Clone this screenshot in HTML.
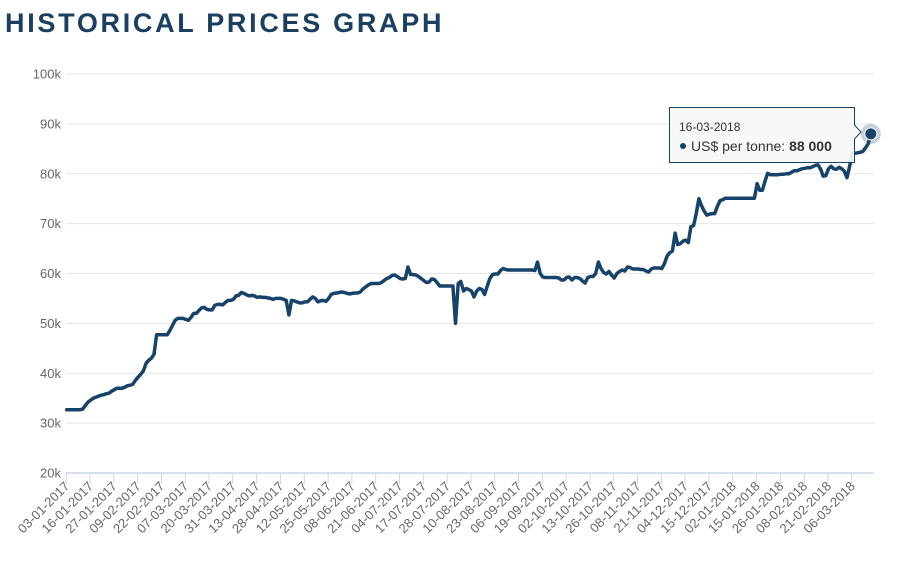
<!DOCTYPE html>
<html><head><meta charset="utf-8"><style>
body{margin:0;background:#fff;width:897px;height:568px;overflow:hidden;font-family:"Liberation Sans",sans-serif}
#title{position:absolute;left:5px;top:8px;font-size:27px;font-weight:bold;letter-spacing:2.7px;color:#1b3f61;margin:0}
svg{position:absolute;left:0;top:0}
</style></head><body>
<h1 id="title">HISTORICAL PRICES GRAPH</h1>
<svg id="chart" width="897" height="568"></svg>
<script>
const tickLabels=["03-01-2017","16-01-2017","27-01-2017","09-02-2017","22-02-2017","07-03-2017","20-03-2017","31-03-2017","13-04-2017","28-04-2017","12-05-2017","25-05-2017","08-06-2017","21-06-2017","04-07-2017","17-07-2017","28-07-2017","10-08-2017","23-08-2017","06-09-2017","19-09-2017","02-10-2017","13-10-2017","26-10-2017","08-11-2017","21-11-2017","04-12-2017","15-12-2017","02-01-2018","15-01-2018","26-01-2018","08-02-2018","21-02-2018","06-03-2018"];
const yTicks=[20000,30000,40000,50000,60000,70000,80000,90000,100000];
const prices=[
32.7,32.7,32.7,32.7,32.7,32.7,32.8,33.5,34.2,
34.6,35,35.2,35.4,35.6,35.7,35.9,36,36.4,
36.7,37,37,37,37.2,37.5,37.6,37.8,38.6,
39.2,39.8,40.5,42,42.6,43,43.8,47.7,47.7,
47.7,47.7,47.7,48.6,49.6,50.6,51,51,51,
50.8,50.6,51.2,52,52,52.6,53.1,53.2,52.8,
52.7,52.7,53.6,53.8,53.8,53.7,54.2,54.6,54.6,
54.8,55.5,55.6,56.2,56,55.7,55.5,55.6,55.5,
55.2,55.3,55.2,55.2,55.1,55,54.8,55,55,
55,54.8,54.6,51.7,54.6,54.5,54.3,54.1,54.1,
54.3,54.3,54.8,55.3,55,54.3,54.5,54.6,54.4,
55,55.8,56,56.1,56.2,56.3,56.2,56,55.9,
56,56.1,56.1,56.3,56.9,57.3,57.7,58,58,
58,58,58.2,58.6,59,59.2,59.6,59.7,59.4,
59,58.9,59,61.3,59.8,59.8,59.7,59.4,59,
58.6,58.2,58.3,58.9,58.8,58.2,57.5,57.5,57.5,
57.5,57.5,57.5,50,58,58.4,56.5,57,56.8,
56.5,55.3,56.5,57,56.8,55.8,57.5,59,59.8,
59.9,59.9,60.6,61,60.8,60.7,60.7,60.7,60.7,
60.7,60.7,60.7,60.7,60.7,60.7,60.6,62.3,60,
59.3,59.2,59.2,59.2,59.2,59.2,59.1,58.7,58.7,
59.2,59.3,58.7,59.2,59.2,59,58.5,58.1,59.2,
59.4,59.4,60,62.3,61,60.2,59.9,60.4,59.7,
59.1,60,60.4,60.7,60.5,61.3,61.2,60.9,60.9,
60.9,60.8,60.8,60.5,60.3,60.9,61.1,61.1,61.1,
61,62,63.5,64.2,64.5,68.1,65.8,66,66.5,
66.7,66.2,69.4,69.6,72,75,73.6,72.5,71.7,
71.9,72,72,73.5,74.6,74.8,75.1,75.1,75.1,
75.1,75.1,75.1,75.1,75.1,75.1,75.1,75.1,75.1,
78,76.7,76.7,78.5,80.1,79.8,79.8,79.8,79.8,
79.9,79.9,80,80,80.3,80.6,80.6,80.8,81,
81.1,81.2,81.2,81.4,81.7,81.8,81,79.5,79.6,
81,81.5,81,80.9,81.3,81,80.5,79.2,81.5,
84,84.1,84.2,84.3,84.5,85.2,86,88];
const values=prices.map(v=>v*1000);
const lastDate="16-03-2018";

const NS="http://www.w3.org/2000/svg";
const svg=document.getElementById('chart');
const X0=66.7,X1=870.8,Y0=473,Y1=74,YMIN=20000,YMAX=100000,PER=9;
const step=(X1-X0)/(values.length-1);
const xs=i=>X0+i*step;
const ys=v=>Y0-(v-YMIN)/(YMAX-YMIN)*(Y0-Y1);
function mk(t,a,p){const e=document.createElementNS(NS,t);for(const k in a)e.setAttribute(k,a[k]);(p||svg).appendChild(e);return e;}

yTicks.forEach(t=>{
  const y=ys(t);
  if(t>YMIN){const g=mk('line',{x1:66,x2:874,y1:y,y2:y,stroke:'#e6e6e6','stroke-width':1});
  
  }
  const tx=mk('text',{x:61,y:y+4.5,'text-anchor':'end','font-size':13,fill:'#666','font-family':'Liberation Sans, sans-serif'});
  tx.textContent=(t/1000)+'k';
  
  
});
const ax=mk('line',{x1:66,x2:874,y1:Y0,y2:Y0,stroke:'#ccd6eb','stroke-width':1.5});


tickLabels.forEach((l,k)=>{
  const x=xs(k*PER)-0.5;
  const tk=mk('line',{x1:x,x2:x,y1:Y0,y2:Y0+11,stroke:'#ccd6eb','stroke-width':1});
  
  
  const tx=mk('text',{x:x+4,y:Y0+14,'text-anchor':'end','font-size':13,fill:'#666','font-family':'Liberation Sans, sans-serif',transform:`rotate(-45 ${x+4} ${Y0+14})`});
  tx.textContent=l;
  
  
});
const d=values.map((v,i)=>(i?'L':'M')+xs(i).toFixed(1)+' '+ys(v).toFixed(1)).join(' ');
const line=mk('path',{d:d,fill:'none',stroke:'#17436b','stroke-width':3.5,'stroke-linejoin':'round','stroke-linecap':'round'});


const li=values.length-1,lx=xs(li),ly=ys(values[li]);
const halo=mk('circle',{cx:lx,cy:ly,r:10,fill:'#17436b','fill-opacity':0.25});


const dot=mk('circle',{cx:lx,cy:ly,r:6,fill:'#17436b',stroke:'#fff','stroke-width':1});


const tg=mk('g',{});


mk('path',{d:`M669.5 107.5 H854.5 V125 L861 132 L854.5 139 V162.5 H669.5 Z`,fill:'#f7f7f7','fill-opacity':0.92,stroke:'#17436b','stroke-width':1},tg);
const t1=mk('text',{x:679,y:131,'font-size':12,fill:'#333','font-family':'Liberation Sans, sans-serif'},tg);
t1.textContent=lastDate;


mk('circle',{cx:683,cy:146,r:3,fill:'#17436b'},tg);
const t2=mk('text',{x:691,y:151,'font-size':14,fill:'#333','font-family':'Liberation Sans, sans-serif'},tg);


t2.innerHTML='US$ per tonne: <tspan font-weight="bold">'+values[li].toLocaleString('en-US').replace(/,/g,' ')+'</tspan>';
</script>
</body></html>
